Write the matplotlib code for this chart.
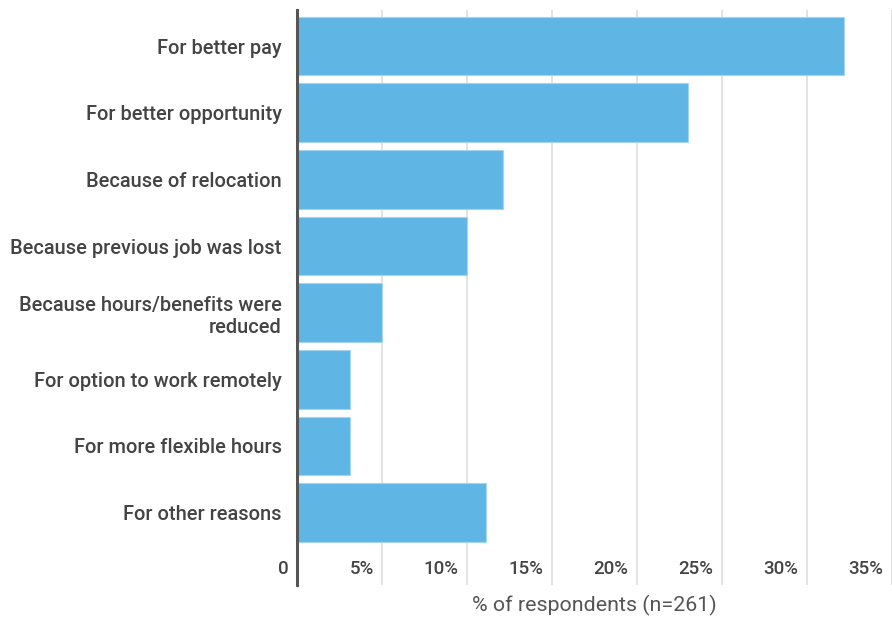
import matplotlib.pyplot as plt
import matplotlib.transforms as mtransforms

reasons = ["For better pay", "For better opportunity", "Because of relocation",
           "Because previous job was lost", "Because hours/benefits were\nreduced",
           "For option to work remotely", "For more flexible hours", "For other reasons"]
pct = [32.2, 23.0, 12.1, 10.0, 5.0, 3.1, 3.1, 11.1]
ticks = [0, 5, 10, 15, 20, 25, 30, 35]
tick_labels = ["0", "5%", "10%", "15%", "20%", "25%", "30%", "35%"]

plt.rcParams['font.family'] = ['Roboto', 'DejaVu Sans']
txt = '#444444'

fig = plt.figure(figsize=(8.92, 6.17), dpi=100)
ax = fig.add_axes([0.333, 0.052, 0.6665, 0.932])

ypos = list(range(len(reasons)))
ax.barh(ypos, pct, height=0.88, color='#5fb6e5', edgecolor='#a3d5f1', linewidth=0.8, zorder=2)

ax.set_xlim(0, 35)
ax.set_ylim(8.086, -0.545)
ax.set_yticks(ypos)
ax.set_yticklabels(reasons, fontsize=14.4, color=txt, fontweight='medium', ha='right',
                   multialignment='right', linespacing=1.25)
ax.tick_params(axis='y', length=0, pad=11)

ax.set_xticks(ticks)
ax.set_xticklabels(tick_labels, fontsize=13.5, color=txt, fontweight='medium')
ax.tick_params(axis='x', length=0, pad=-18)
offset = mtransforms.ScaledTranslation(-6 / 72, 0, fig.dpi_scale_trans)
for lab in ax.get_xticklabels():
    lab.set_ha('right')
    lab.set_transform(lab.get_transform() + offset)

ax.grid(axis='x', color='#e0e0e0', linewidth=1.3, zorder=0)
ax.set_axisbelow(True)
for s in ['top', 'right', 'bottom']:
    ax.spines[s].set_visible(False)
ax.spines['left'].set_color('#555555')
ax.spines['left'].set_linewidth(2.2)
ax.spines['left'].set_zorder(3)

ax.set_xlabel('% of respondents (n=261)', fontsize=15.4, color='#555555', labelpad=7)

fig.savefig('out.png', dpi=100)
